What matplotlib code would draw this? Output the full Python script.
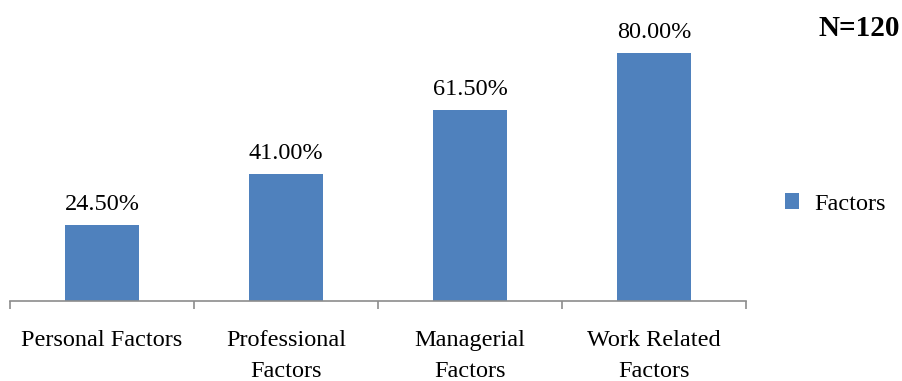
import matplotlib.pyplot as plt
import numpy as np

categories = ["Personal Factors", "Professional\nFactors", "Managerial\nFactors", "Work Related\nFactors"]
values = [24.5, 41.0, 61.5, 80.0]
series_name = "Factors"

plt.rcParams["font.family"] = ["Liberation Serif", "DejaVu Serif"]

fig = plt.figure(figsize=(9.03, 3.81), dpi=100)
ax = fig.add_axes([10 / 903, 80 / 381, 736 / 903, 301 / 381])

x = np.arange(len(categories))
bars = ax.bar(x, values, width=0.4, color="#4F81BD", label=series_name)

for b, v in zip(bars, values):
    ax.annotate(f"{v:.2f}%", (b.get_x() + b.get_width() / 2, v),
                xytext=(0, 7), textcoords="offset points",
                ha="center", va="bottom", fontsize=17.5)

ax.set_xlim(-0.5, len(categories) - 0.5)
ax.set_ylim(0, 97)

# category labels on major ticks, boundary ticks as minor
ax.set_xticks(x)
ax.set_xticklabels(categories, fontsize=17.5, linespacing=1.6, va="top")
ax.tick_params(axis="x", which="major", length=0, pad=21)
ax.set_xticks(np.arange(len(categories) + 1) - 0.5, minor=True)
ax.tick_params(axis="x", which="minor", length=6, width=1.2, color="#8c8c8c")
ax.set_yticks([])

for s in ["top", "right", "left"]:
    ax.spines[s].set_visible(False)
ax.spines["bottom"].set_color("#8c8c8c")
ax.spines["bottom"].set_linewidth(1.2)

fig.legend(handles=[bars], labels=[series_name], loc="center left",
           bbox_to_anchor=(763 / 903, 1 - 204 / 381), frameon=False,
           fontsize=17.5, handlelength=0.6, handleheight=0.6, handletextpad=0.6)

fig.text(900 / 903, 1 - 28 / 381, "N=120", ha="right", va="center",
         fontsize=21, fontweight="bold")

fig.savefig("out.png", dpi=100)
